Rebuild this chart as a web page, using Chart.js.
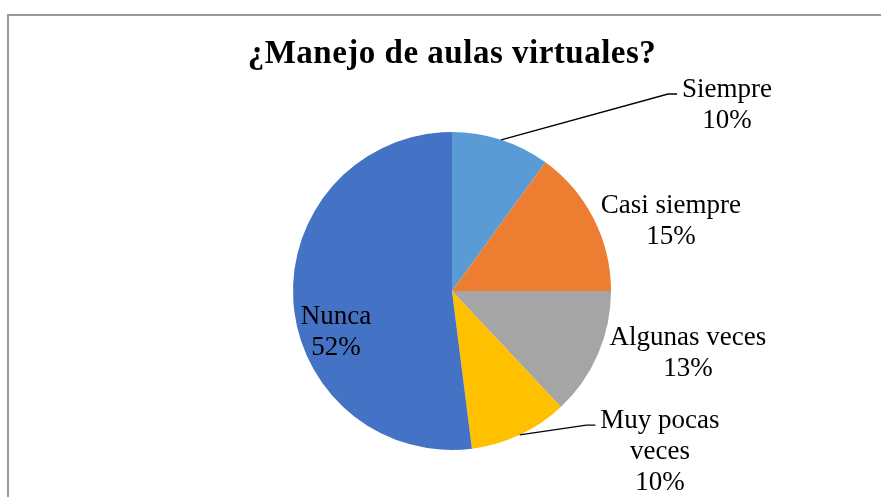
<!DOCTYPE html>
<html>
<head>
<meta charset="utf-8">
<script src="https://cdn.jsdelivr.net/npm/chart.js@4"></script>
<style>
  html, body { margin: 0; padding: 0; background: #fff; }
  #wrap { position: relative; width: 881px; height: 497px; overflow: hidden; }
  #frame { position: absolute; left: 7px; top: 14px; right: -4px; bottom: -4px;
           border-top: 2px solid #9a9a9a; border-left: 2px solid #9a9a9a; }
  canvas { position: absolute; left: 0; top: 0; }
</style>
</head>
<body>
<div id="wrap">
  <div id="frame"></div>
  <canvas id="pieChart" width="881" height="497"></canvas>
</div>
<script>
// Respuestas a la pregunta
const titulo = '¿Manejo de aulas virtuales?';
const categorias = ['Siempre', 'Casi siempre', 'Algunas veces', 'Muy pocas veces', 'Nunca'];
const porcentajes = [10, 15, 13, 10, 52];
const colores = ['#5B9BD5', '#ED7D31', '#A5A5A5', '#FFC000', '#4472C4'];

// Texto de cada etiqueta (líneas)
const lineasEtiqueta = [
    ['Siempre', '10%'],
    ['Casi siempre', '15%'],
    ['Algunas veces', '13%'],
    ['Muy pocas', 'veces', '10%'],
    ['Nunca', '52%']
];
// Posición de la etiqueta respecto al centro, en radios (primera línea)
const posEtiqueta = [[1.73, -1.22], [1.377, -0.491], [1.484, 0.34], [1.308, 0.862], [-0.73, 0.208]];
const conLinea = [true, false, false, true, false];

const fuente = '27px "Liberation Serif", serif';
const interlineado = 31;

const etiquetas = {
    id: 'etiquetas',
    afterDatasetsDraw(chart) {
        const ctx = chart.ctx;
        const arcs = chart.getDatasetMeta(0).data;
        ctx.save();
        ctx.fillStyle = '#000';
        ctx.textAlign = 'center';
        ctx.textBaseline = 'alphabetic';

        // título centrado sobre la torta
        const cx = arcs[0].x;
        ctx.font = 'bold 33px "Liberation Serif", serif';
        ctx.letterSpacing = '0.5px';
        ctx.fillText(titulo, cx, 63);
        ctx.letterSpacing = '0px';

        ctx.font = fuente;
        arcs.forEach((arc, i) => {
            const {x, y, outerRadius: r, startAngle, endAngle} = arc.getProps(['x', 'y', 'outerRadius', 'startAngle', 'endAngle'], true);
            const tx = x + posEtiqueta[i][0] * r;
            const ty = y + posEtiqueta[i][1] * r;
            const lineas = lineasEtiqueta[i];
            lineas.forEach((t, k) => ctx.fillText(t, tx, ty + k * interlineado));

            if (conLinea[i]) {
                const mid = (startAngle + endAngle) / 2;
                const ex = x + Math.cos(mid) * r;
                const ey = y + Math.sin(mid) * r;
                const izq = tx - ctx.measureText(lineas[0]).width / 2;
                ctx.beginPath();
                ctx.strokeStyle = '#000';
                ctx.lineWidth = 1.3;
                ctx.moveTo(ex, ey);
                ctx.lineTo(izq - 14, ty - 3);
                ctx.lineTo(izq - 5, ty - 3);
                ctx.stroke();
            }
        });
        ctx.restore();
    }
};

const ctx = document.getElementById('pieChart').getContext('2d');
new Chart(ctx, {
    type: 'pie',
    data: {
        labels: categorias,
        datasets: [{
            data: porcentajes,
            backgroundColor: colores,
            borderWidth: 0,
            hoverOffset: 0,
            offset: 0
        }]
    },
    options: {
        responsive: false,
        animation: false,
        events: [],
        layout: { padding: { top: 132, bottom: 47, left: 293, right: 270 } },
        plugins: {
            legend: { display: false },
            tooltip: { enabled: false },
            title: { display: false }
        }
    },
    plugins: [etiquetas]
});
</script>
</body>
</html>
